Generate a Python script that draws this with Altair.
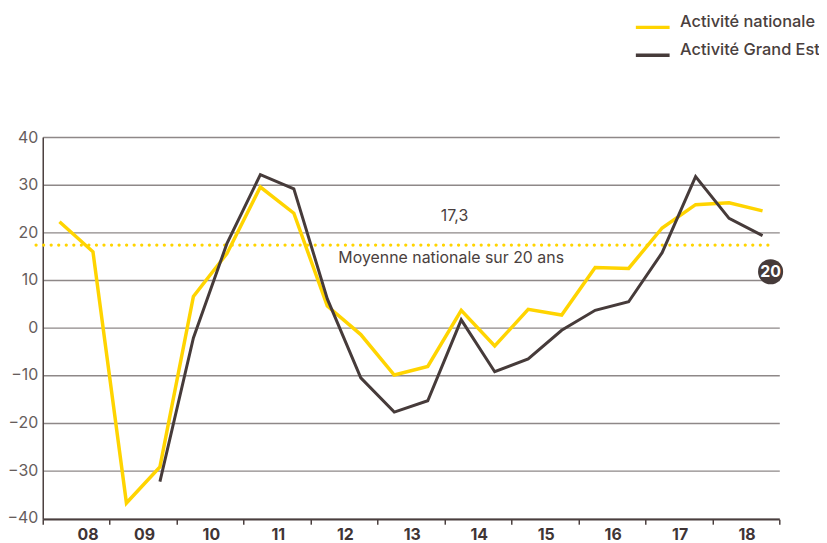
import altair as alt
import pandas as pd

# ---- data ----
periods = [2008.25, 2008.75, 2009.25, 2009.75, 2010.25, 2010.75, 2011.25, 2011.75,
           2012.25, 2012.75, 2013.25, 2013.75, 2014.25, 2014.75, 2015.25, 2015.75,
           2016.25, 2016.75, 2017.25, 2017.75, 2018.25, 2018.75]
nationale = [22.2, 15.9, -36.9, -29.3, 6.5, 15.5, 29.5, 24.0, 4.5, -1.5, -10.0, -8.2,
             3.6, -3.9, 3.8, 2.6, 12.6, 12.4, 20.9, 25.8, 26.2, 24.5]
grand_est_periods = periods[3:]
grand_est = [-32.4, -2.2, 17.6, 32.1, 29.1, 6.0, -10.6, -17.8, -15.4, 1.6, -9.3, -6.6,
             -0.6, 3.6, 5.4, 15.7, 31.7, 22.9, 19.3]
series_names = ["Activité nationale", "Activité Grand Est"]
series_colors = ["#FFD400", "#463B3A"]
moyenne = 17.3
moyenne_label = "17,3"
moyenne_text = "Moyenne nationale sur 20 ans"
badge_label = "20"
year_ticks = list(range(2008, 2020))
y_ticks = list(range(-40, 41, 10))

TEXT = "#4A3F3E"
FONT = "Inter"

df_nat = pd.DataFrame({"periode": periods, "valeur": nationale, "serie": series_names[0]})
df_ge = pd.DataFrame({"periode": grand_est_periods, "valeur": grand_est, "serie": series_names[1]})

x_scale = alt.Scale(domain=[2008, 2019], nice=False, zero=False)
y_scale = alt.Scale(domain=[-40.3, 40], nice=False, zero=False)
color_scale = alt.Scale(domain=series_names, range=series_colors)

x_axis = alt.Axis(values=year_ticks,
                  labelExpr="datum.value >= 2019 ? '' : slice(toString(datum.value), 2)",
                  labelOffset=34.5, tickSize=5, tickColor=TEXT, tickWidth=1.5,
                  domainColor=TEXT, domainWidth=1.5, grid=False, title=None,
                  labelFontWeight="bold", labelFontSize=16, labelColor="#3F3535",
                  labelFont=FONT, labelPadding=2, labelOverlap=False)
y_axis = alt.Axis(values=y_ticks, grid=True, gridColor="#8E8888", gridWidth=1.4,
                  ticks=False, domainColor=TEXT, domainWidth=1.5, title=None,
                  labelColor="#665D5C", labelFontSize=16, labelFont=FONT, labelPadding=5)

legend = alt.Legend(orient="none", legendX=604, legendY=-121, title=None,
                    symbolType="M-2,0H2", symbolSize=289, symbolStrokeWidth=3.5,
                    labelFontSize=16.5, labelFontWeight=500, labelColor=TEXT, labelFont=FONT,
                    labelOffset=17, labelBaseline="alphabetic", rowPadding=7, padding=0)

color = alt.Color("serie:N", scale=color_scale, legend=legend)

line_nat = alt.Chart(df_nat).mark_line(strokeWidth=3.5).encode(
    x=alt.X("periode:Q", scale=x_scale, axis=x_axis),
    y=alt.Y("valeur:Q", scale=y_scale, axis=y_axis),
    color=color,
)
line_ge = alt.Chart(df_ge).mark_line(strokeWidth=3).encode(
    x=alt.X("periode:Q", scale=x_scale),
    y=alt.Y("valeur:Q", scale=y_scale),
    color=color,
)

mean_df = pd.DataFrame({"v": [moyenne], "lab": [moyenne_label], "txt": [moyenne_text]})
mean_rule = alt.Chart(mean_df).mark_rule(
    strokeDash=[0.1, 7.5], strokeCap="round", strokeWidth=3.2, color=series_colors[0]
).encode(y=alt.Y("v:Q", scale=y_scale), x=alt.datum(2007.9), x2=alt.datum(2018.9))

mean_val = alt.Chart(mean_df).mark_text(
    dy=-29, fontSize=16, font=FONT, color=TEXT, align="center", baseline="middle"
).encode(y=alt.Y("v:Q", scale=y_scale), x=alt.datum(2014.15), text="lab:N")

mean_txt = alt.Chart(mean_df).mark_text(
    dy=13.5, fontSize=16, font=FONT, color=TEXT, align="center", baseline="middle"
).encode(y=alt.Y("v:Q", scale=y_scale), x=alt.datum(2014.1), text="txt:N")

badge_df = pd.DataFrame({"lab": [badge_label]})
badge = alt.Chart(badge_df).mark_circle(size=640, opacity=1, color=series_colors[1]).encode(
    x=alt.datum(2018.87), y=alt.datum(11.7))
badge_txt = alt.Chart(badge_df).mark_text(
    fontSize=16, fontWeight="bold", font=FONT, color="white", baseline="middle", align="center"
).encode(x=alt.datum(2018.87), y=alt.datum(11.7), text="lab:N")

chart = alt.layer(
    line_nat, mean_rule, line_ge, mean_val, mean_txt, badge, badge_txt
).properties(
    width=742, height=385,
    autosize=alt.AutoSizeParams(type="none"),
    padding={"left": 35, "top": 128, "right": 40, "bottom": 32},
).configure_view(stroke=None)

chart.save("out.html", embed_options={"renderer": "svg", "actions": False})
